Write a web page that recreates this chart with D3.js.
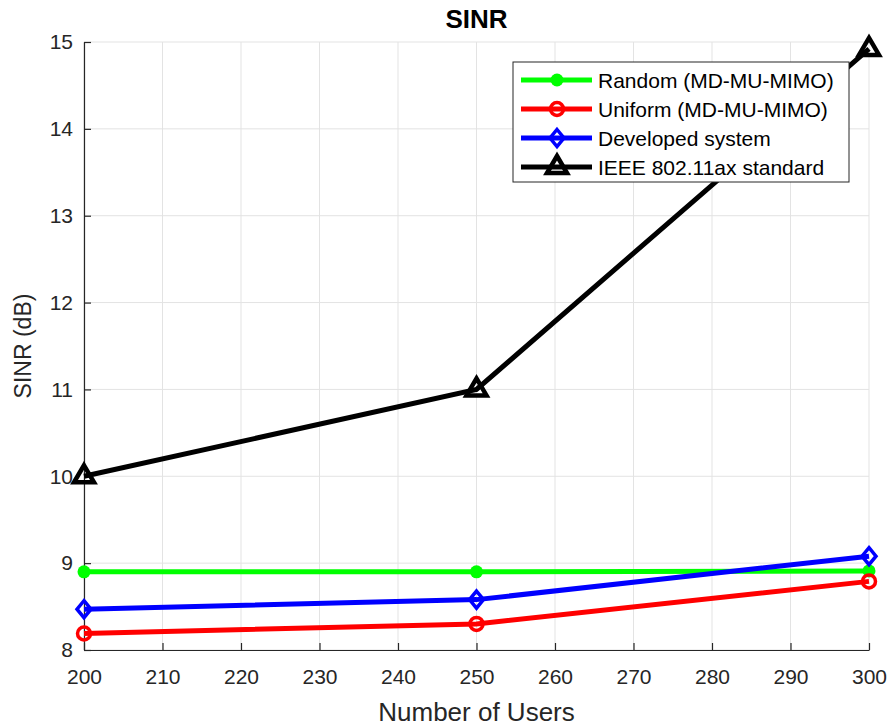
<!DOCTYPE html>
<html><head><meta charset="utf-8">
<script src="https://cdn.jsdelivr.net/npm/d3@7"></script>
<style>body{margin:0;background:#fff}svg{font-family:"Liberation Sans",Arial,sans-serif}</style>
</head><body><svg id="c" width="890" height="727"></svg>
<script>
const users = [200, 250, 300];
const randomMD = [8.9, 8.9, 8.91];
const uniformMD = [8.19, 8.3, 8.79];
const developed = [8.47, 8.58, 9.08];
const ieee = [10.0, 11.0, 14.92];
const xTicks = [200,210,220,230,240,250,260,270,280,290,300];
const yTicks = [8,9,10,11,12,13,14,15];
const series = [
  {name:"Random (MD-MU-MIMO)", vals:randomMD, color:"#00ff00", marker:"dot"},
  {name:"Uniform (MD-MU-MIMO)", vals:uniformMD, color:"#ff0000", marker:"circle"},
  {name:"Developed system", vals:developed, color:"#0000ff", marker:"diamond"},
  {name:"IEEE 802.11ax standard", vals:ieee, color:"#000000", marker:"triangle"}
];
const svg = d3.select("#c");
const L=84, R=869, T=42, B=650;
const x = d3.scaleLinear().domain([200,300]).range([L,R]);
const y = d3.scaleLinear().domain([8,15]).range([B,T]);
// grid
const g = svg.append("g");
g.selectAll(".gx").data(xTicks).join("line").attr("x1",d=>x(d)).attr("x2",d=>x(d)).attr("y1",T).attr("y2",B).attr("stroke","#e3e3e3").attr("stroke-width",1);
g.selectAll(".gy").data(yTicks).join("line").attr("x1",L).attr("x2",R).attr("y1",d=>y(d)).attr("y2",d=>y(d)).attr("stroke","#e3e3e3").attr("stroke-width",1);
// axes
const xa = svg.append("g").attr("transform",`translate(0,${B})`).call(d3.axisBottom(x).tickValues(xTicks).tickFormat(d3.format("d")).tickSizeInner(-7).tickSizeOuter(0).tickPadding(19));
const ya = svg.append("g").attr("transform",`translate(${L},0)`).call(d3.axisLeft(y).tickValues(yTicks).tickFormat(d3.format("d")).tickSizeInner(-7).tickSizeOuter(0).tickPadding(11));
[xa,ya].forEach(a=>{a.select(".domain").attr("stroke","#262626").attr("stroke-width",1.2);
 a.selectAll(".tick line").attr("stroke","#262626").attr("stroke-width",1.2);
 a.selectAll(".tick text").attr("fill","#262626").style("font-size","21px").style("font-family","'Liberation Sans',Arial,sans-serif");});
xa.selectAll(".tick text").attr("dy","0.71em");
// labels
svg.append("text").attr("x",(L+R)/2).attr("y",721).attr("text-anchor","middle").attr("fill","#262626").style("font-size","26px").text("Number of Users");
svg.append("text").attr("transform",`translate(31,${(T+B)/2}) rotate(-90)`).attr("text-anchor","middle").attr("fill","#262626").style("font-size","23px").text("SINR (dB)");
svg.append("text").attr("x",(L+R)/2).attr("y",28).attr("text-anchor","middle").attr("fill","#000").style("font-size","26px").style("font-weight","bold").text("SINR");
function drawMarker(sel, type, color){
  if(type==="dot") sel.append("circle").attr("r",6.5).attr("fill",color);
  else if(type==="circle") sel.append("circle").attr("r",6.5).attr("fill","none").attr("stroke",color).attr("stroke-width",3.5);
  else if(type==="diamond") sel.append("path").attr("d","M0,-8.5L7,0L0,8.5L-7,0Z").attr("fill","none").attr("stroke",color).attr("stroke-width",3.5);
  else if(type==="triangle") sel.append("path").attr("d","M0,-11L10,6L-10,6Z").attr("fill","none").attr("stroke",color).attr("stroke-width",4.5).attr("stroke-linejoin","miter");
}
const line = d3.line().x((d,i)=>x(users[i])).y(d=>y(d));
series.forEach(s=>{
  svg.append("path").attr("d",line(s.vals)).attr("fill","none").attr("stroke",s.color).attr("stroke-width",5);
  s.vals.forEach((v,i)=>{const m=svg.append("g").attr("transform",`translate(${x(users[i])},${y(v)})`);drawMarker(m,s.marker,s.color);});
});
// legend
const lg = svg.append("g");
lg.append("rect").attr("x",513).attr("y",62).attr("width",336).attr("height",120).attr("fill","#fff").attr("stroke","#262626").attr("stroke-width",1);
series.forEach((s,i)=>{
  const yy = 80 + i*29;
  lg.append("line").attr("x1",521).attr("x2",592).attr("y1",yy).attr("y2",yy).attr("stroke",s.color).attr("stroke-width",5);
  const m=lg.append("g").attr("transform",`translate(557,${yy})`);drawMarker(m,s.marker,s.color);
  lg.append("text").attr("x",598).attr("y",yy).attr("dy","0.36em").attr("fill","#000").style("font-size","21px").text(s.name);
});
</script></body></html>
